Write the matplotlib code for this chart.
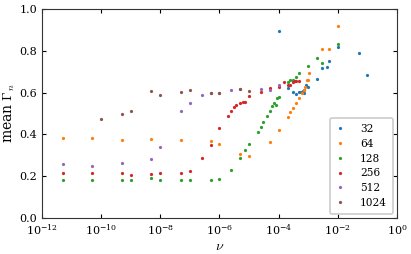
import matplotlib
matplotlib.use("Agg")
import matplotlib.pyplot as plt
import numpy as np

plt.rcParams["font.family"] = "DejaVu Serif"
plt.rcParams["mathtext.fontset"] = "cm"

# values (nu, mean Gamma_n) per system size
nu_32 = [1e-4, 2e-4, 3e-4, 4e-4, 5e-4, 5.9e-4, 6.5e-4, 7e-4, 7.4e-4, 8.5e-4, 1e-3,
         2e-3, 3e-3, 4.2e-3, 5.2e-3, 1e-2, 5e-2, 1e-1]
g_32 = [0.892, 0.623, 0.604, 0.594, 0.604, 0.604, 0.609, 0.613, 0.599, 0.637, 0.627,
        0.666, 0.718, 0.723, 0.752, 0.818, 0.788, 0.686]

nu_64 = [5e-12, 5e-11, 5e-10, 5e-9, 5e-8, 5e-7, 1e-6, 5e-6, 1e-5, 5e-5, 1e-4,
         2e-4, 2.5e-4, 3e-4, 4e-4, 5e-4, 6e-4, 7e-4, 8e-4, 9e-4, 1e-3, 1.1e-3,
         3e-3, 5e-3, 1e-2]
g_64 = [0.381, 0.384, 0.374, 0.376, 0.374, 0.366, 0.354, 0.306, 0.296, 0.365, 0.420,
        0.484, 0.506, 0.528, 0.551, 0.576, 0.600, 0.613, 0.627, 0.661, 0.661, 0.694,
        0.807, 0.807, 0.916]

nu_128 = [5e-12, 5e-11, 5e-10, 1e-9, 5e-9, 1e-8, 5e-8, 1e-7, 5e-7, 1e-6, 2.5e-6,
          5e-6, 7.5e-6, 1e-5, 2e-5, 2.5e-5, 3e-5, 4e-5, 5e-5, 6e-5, 7e-5, 8e-5,
          9e-5, 1e-4, 2e-4, 2.5e-4, 3e-4, 4e-4, 5e-4, 1e-3, 2e-3, 3e-3, 1e-2]
g_128 = [0.183, 0.183, 0.183, 0.183, 0.191, 0.182, 0.182, 0.183, 0.182, 0.186, 0.229,
         0.285, 0.326, 0.353, 0.409, 0.436, 0.459, 0.487, 0.511, 0.537, 0.548, 0.540,
         0.575, 0.580, 0.648, 0.658, 0.661, 0.675, 0.691, 0.729, 0.763, 0.742, 0.831]

nu_256 = [5e-12, 5e-11, 5e-10, 1e-9, 5e-9, 1e-8, 5e-8, 1e-7, 2.5e-7, 5e-7, 1e-6,
          2e-6, 2.5e-6, 3e-6, 3.7e-6, 5e-6, 6e-6, 7.5e-6, 1e-5, 2.5e-5, 5e-5,
          1e-4, 1.5e-4, 2e-4, 2.5e-4, 3e-4, 3.6e-4, 4e-4, 4.8e-4]
g_256 = [0.215, 0.213, 0.213, 0.205, 0.210, 0.217, 0.215, 0.226, 0.288, 0.350, 0.428,
         0.489, 0.513, 0.530, 0.538, 0.549, 0.554, 0.556, 0.581, 0.602, 0.621,
         0.624, 0.648, 0.635, 0.637, 0.651, 0.654, 0.656, 0.653]

nu_512 = [5e-12, 5e-11, 5e-10, 5e-9, 1e-8, 5e-8, 1e-7, 2.5e-7, 5e-7, 1e-6, 2.5e-6,
          5e-6, 2.5e-5, 5e-5, 1e-4]
g_512 = [0.256, 0.248, 0.264, 0.283, 0.341, 0.513, 0.548, 0.589, 0.597, 0.597, 0.611,
         0.615, 0.616, 0.613, 0.635]

nu_1024 = [1e-10, 5e-10, 1e-9, 5e-9, 1e-8, 5e-8, 1e-7, 5e-7, 1e-6, 5e-6, 1e-5]
g_1024 = [0.475, 0.498, 0.511, 0.605, 0.589, 0.602, 0.611, 0.600, 0.599, 0.618, 0.608]

sizes = ["32", "64", "128", "256", "512", "1024"]
series = [(nu_32, g_32), (nu_64, g_64), (nu_128, g_128),
          (nu_256, g_256), (nu_512, g_512), (nu_1024, g_1024)]

fig = plt.figure(figsize=(4.11, 2.54), dpi=100)
ax = fig.add_axes([0.102, 0.142, 0.864, 0.823])

for lab, (x, y) in zip(sizes, series):
    ax.plot(x, y, ".", markersize=2.6, label=lab)

ax.set_xscale("log")
ax.set_xlim(1e-12, 1)
ax.set_ylim(0, 1)
ax.set_xticks([1e-12, 1e-10, 1e-8, 1e-6, 1e-4, 1e-2, 1])
ax.minorticks_off()
ax.set_yticks([0, 0.2, 0.4, 0.6, 0.8, 1.0])
ax.tick_params(direction="in", top=True, right=True, labelsize=8, length=3)
for s in ax.spines.values():
    s.set_color("#333333")
ax.set_xlabel(r"$\nu$", fontsize=10, labelpad=1)
ax.set_ylabel(r"mean $\Gamma_n$", fontsize=10, labelpad=2)

leg = ax.legend(loc="lower right", fontsize=7.6, markerscale=1.0, handlelength=0.8,
                handletextpad=1.5, labelspacing=0.45, borderpad=0.55,
                borderaxespad=0.4, fancybox=True, framealpha=1)
leg.get_frame().set_edgecolor("#cccccc")
leg.get_frame().set_linewidth(1.2)

fig.savefig("out.png", dpi=100)
